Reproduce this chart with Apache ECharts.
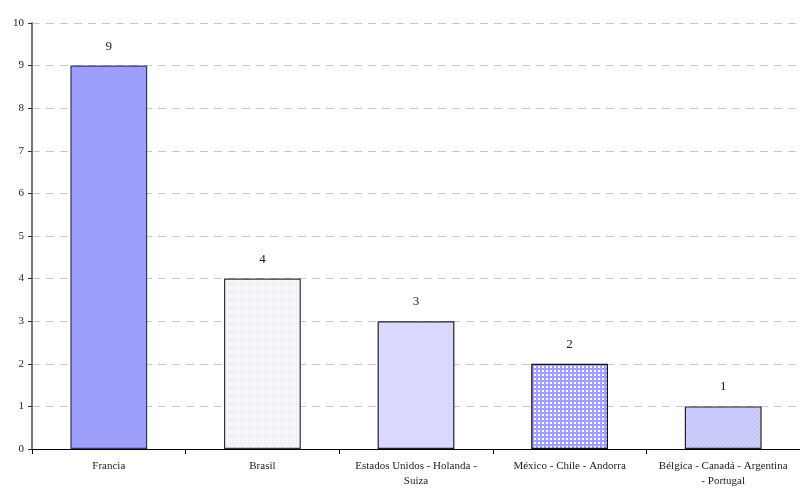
<!DOCTYPE html>
<html>
<head>
<meta charset="utf-8">
<script src="https://cdn.jsdelivr.net/npm/echarts@6/dist/echarts.min.js"></script>
<style>
  html, body { margin: 0; padding: 0; background: #fff; }
  #chart { width: 800px; height: 490px; }
</style>
</head>
<body>
<div id="chart"></div>
<script>
// Countries grouped by count
const categories = [
  'Francia',
  'Brasil',
  'Estados Unidos - Holanda -\nSuiza',
  'México - Chile - Andorra',
  'Bélgica - Canadá - Argentina\n- Portugal'
];
const values = [9, 4, 3, 2, 1];

// Small tiled fills for each bar
function pattern(draw, w, h) {
  const c = document.createElement('canvas');
  c.width = w; c.height = h;
  const g = c.getContext('2d');
  draw(g, w, h);
  return { image: c, repeat: 'repeat' };
}
const fills = [
  pattern((g, w, h) => { g.fillStyle = '#9c9cff'; g.fillRect(0, 0, w, h); g.fillStyle = '#ababff'; g.fillRect(0, 0, 1, 1); g.fillRect(2, 2, 1, 1); }, 4, 4),
  pattern((g, w, h) => { g.fillStyle = '#fbfbff'; g.fillRect(0, 0, w, h); g.fillStyle = '#e6e6ff'; g.fillRect(0, 0, 1, 1); g.fillRect(2, 1, 1, 1); g.fillRect(0, 2, 1, 1); g.fillRect(2, 3, 1, 1); }, 4, 4),
  pattern((g, w, h) => { g.fillStyle = '#dadaff'; g.fillRect(0, 0, w, h); g.fillStyle = '#ceceff'; g.fillRect(0, 0, 1, 1); g.fillRect(2, 2, 1, 1); }, 4, 4),
  pattern((g, w, h) => { g.fillStyle = '#ffffff'; g.fillRect(0, 0, w, h); g.fillStyle = '#9e9eff'; g.fillRect(0, 0, w, 2); g.fillRect(0, 0, 2, h); }, 4, 4),
  pattern((g, w, h) => { g.fillStyle = '#c6c6ff'; g.fillRect(0, 0, w, h); g.fillStyle = '#d8d8ff'; g.fillRect(0, 0, 1, 1); g.fillRect(1, 1, 1, 1); g.fillRect(2, 2, 1, 1); g.fillRect(3, 3, 1, 1); }, 4, 4)
];
const borders = ['#333366', '#333333', '#222222', '#111111', '#222222'];

const font = '"Liberation Serif", "DejaVu Serif", serif';
const chart = echarts.init(document.getElementById('chart'), null, { renderer: 'canvas' });
chart.setOption({
  animation: false,
  grid: { left: 32, right: 0, top: 23, bottom: 41, containLabel: false },
  xAxis: {
    type: 'category',
    data: categories,
    boundaryGap: true,
    axisLine: { lineStyle: { color: '#000', width: 1 } },
    axisTick: { show: true, alignWithLabel: false, length: 5, lineStyle: { color: '#000' } },
    axisLabel: { color: '#222', fontFamily: font, fontSize: 11, lineHeight: 15, margin: 10, interval: 0 }
  },
  yAxis: {
    type: 'value',
    min: 0, max: 10, interval: 1,
    axisLine: { show: true, lineStyle: { color: '#777', width: 2 } },
    axisTick: { show: true, length: 4, lineStyle: { color: '#333' } },
    axisLabel: { color: '#222', fontFamily: font, fontSize: 11, margin: 8 },
    splitLine: { show: true, lineStyle: { color: '#c8c8c8', type: [8, 6], width: 1 } }
  },
  series: [{
    type: 'bar',
    barWidth: '50%',
    data: values.map((v, i) => ({
      value: v,
      itemStyle: { color: fills[i], borderColor: borders[i], borderWidth: 1.2 }
    })),
    label: {
      show: true, position: 'top', distance: 13,
      color: '#222', fontFamily: font, fontSize: 13
    }
  }]
});
</script>
</body>
</html>
